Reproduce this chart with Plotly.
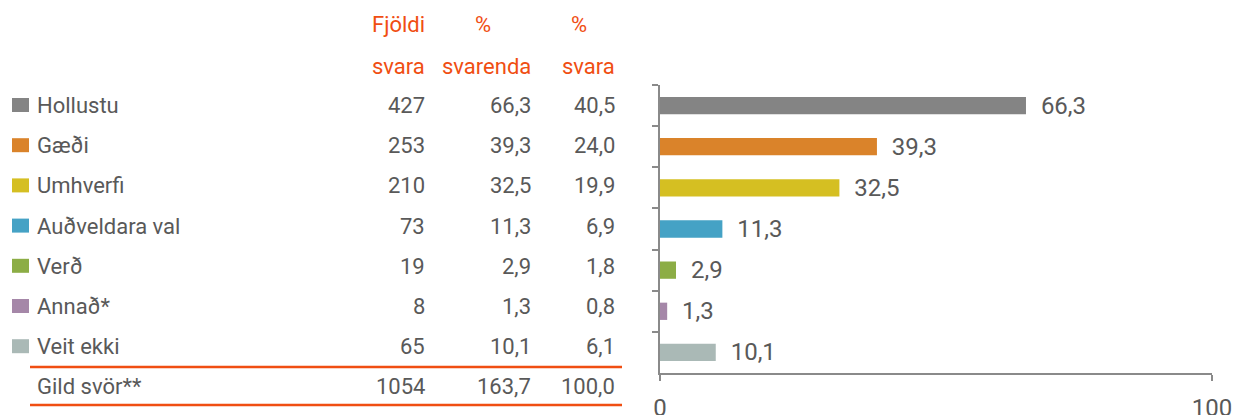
import plotly.graph_objects as go

# ---- data ----
categories = ["Hollustu", "Gæði", "Umhverfi", "Auðveldara val", "Verð", "Annað*", "Veit ekki"]
fjoldi_svara = [427, 253, 210, 73, 19, 8, 65]
pct_svarenda = [66.3, 39.3, 32.5, 11.3, 2.9, 1.3, 10.1]
pct_svara = [40.5, 24.0, 19.9, 6.9, 1.8, 0.8, 6.1]
total_label = "Gild svör**"
total_fjoldi = 1054
total_svarenda = 163.7
total_svara = 100.0
header_line1 = ["Fjöldi", "%", "%"]
header_line2 = ["svara", "svarenda", "svara"]
colors = ["#848484", "#DA832A", "#D5BF22", "#45A2C5", "#8CAD45", "#A587A8", "#AAB9B6"]

W, H = 1234, 415
FONT = "Roboto"
TXT = "#595959"
ORANGE = "#F04E12"
AX = "#8A8A8A"
TS = 22  # table font size
LS = 24  # bar label font size


def px(x):
    return x / W


def py(y):
    return (H - y) / H


def fmt(v):
    return f"{v:.1f}".replace(".", ",")


fig = go.Figure()
fig.add_trace(go.Bar(
    x=pct_svarenda, y=categories, orientation="h",
    marker=dict(color=colors, line=dict(width=0)),
    width=0.42,
    text=["\u00a0\u00a0" + fmt(v) for v in pct_svarenda],
    textposition="outside", cliponaxis=False, constraintext="none",
    textfont=dict(family=FONT, size=LS, color=TXT),
    hoverinfo="skip",
))

ann = []
shapes = []
row_y0, row_step = 105.5, 40.2
col_right = [427, 533, 617]
for i, cat in enumerate(categories):
    yc = row_y0 + i * row_step
    yy = py(yc)
    ann.append(dict(x=px(35), y=yy, xref="paper", yref="paper", text=cat, showarrow=False,
                    xanchor="left", yanchor="middle", font=dict(family=FONT, size=TS, color=TXT)))
    vals = [str(fjoldi_svara[i]), fmt(pct_svarenda[i]), fmt(pct_svara[i])]
    for c, v in zip(col_right, vals):
        ann.append(dict(x=px(c), y=yy, xref="paper", yref="paper", text=v, showarrow=False,
                        xanchor="right", yanchor="middle", font=dict(family=FONT, size=TS, color=TXT)))
    shapes.append(dict(type="rect", xref="paper", yref="paper",
                       x0=px(12), x1=px(29), y0=py(yc - 7.5), y1=py(yc + 6.5),
                       fillcolor=colors[i], line=dict(width=0)))

yt = py(row_y0 + 7 * row_step)
ann.append(dict(x=px(35), y=yt, xref="paper", yref="paper", text=total_label, showarrow=False,
                xanchor="left", yanchor="middle", font=dict(family=FONT, size=TS, color=TXT)))
for c, v in zip(col_right, [str(total_fjoldi), fmt(total_svarenda), fmt(total_svara)]):
    ann.append(dict(x=px(c), y=yt, xref="paper", yref="paper", text=v, showarrow=False,
                    xanchor="right", yanchor="middle", font=dict(family=FONT, size=TS, color=TXT)))

# headers
hdr_x1 = [(427, "right"), (483, "center"), (579, "center")]
for (xx, anc), t in zip(hdr_x1, header_line1):
    ann.append(dict(x=px(xx), y=py(25), xref="paper", yref="paper", text=t, showarrow=False,
                    xanchor=anc, yanchor="middle", font=dict(family=FONT, size=TS, color=ORANGE)))
for xx, t in zip(col_right, header_line2):
    ann.append(dict(x=px(xx), y=py(66), xref="paper", yref="paper", text=t, showarrow=False,
                    xanchor="right", yanchor="middle", font=dict(family=FONT, size=TS, color=ORANGE)))

for yline in (367, 405):
    shapes.append(dict(type="line", xref="paper", yref="paper", x0=px(30), x1=px(622),
                       y0=py(yline), y1=py(yline), line=dict(color=ORANGE, width=2.5)))

fig.update_layout(
    width=W, height=H,
    margin=dict(l=0, r=0, t=0, b=0, pad=0, autoexpand=False),
    paper_bgcolor="white", plot_bgcolor="white",
    separators=",.",
    showlegend=False,
    annotations=ann, shapes=shapes,
    xaxis=dict(domain=[px(660), px(1212)], range=[0, 100], tickvals=[0, 100], ticktext=["0", "100"],
               showgrid=False, zeroline=False, showline=True, linecolor=AX, linewidth=2,
               ticks="outside", ticklen=6, tickcolor=AX, tickwidth=2,
               ticklabelstandoff=6, automargin=False,
               tickfont=dict(family=FONT, size=LS, color=TXT)),
    yaxis=dict(domain=[py(373), py(85)], range=[6.5, -0.5], type="category",
               categoryorder="array", categoryarray=categories,
               showticklabels=False, showgrid=False, zeroline=False, automargin=False,
               showline=True, linecolor=AX, linewidth=2,
               ticks="outside", ticklen=6, tickcolor=AX, tickwidth=2, tickson="boundaries"),
)

fig.write_html("out.html", config={"displayModeBar": False},
               post_script="document.body.style.margin='0';")
